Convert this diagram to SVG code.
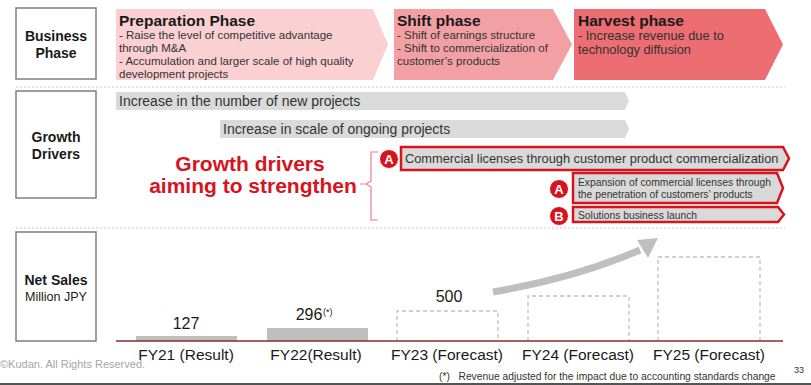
<svg xmlns="http://www.w3.org/2000/svg" width="811" height="385" viewBox="0 0 811 385">
<defs>
<style>
text{font-family:"Liberation Sans",Arial,sans-serif;fill:#1a1a1a}
.lbl{fill:#fff;stroke:#7f7f7f;stroke-width:1.5}
.lt{font-weight:bold;font-size:14px;text-anchor:middle}
.pt{font-weight:bold;font-size:15.5px}
.ps{font-size:11.5px;fill:#333}
.sep{stroke:#c8c8c8;stroke-width:1;stroke-dasharray:2 2}
.gbar{fill:#dadada}
.gt{font-size:14px;fill:#333}
.rbox{fill:#d9d9d9;stroke:#d7141e;stroke-width:2.5}
.circ{fill:#d7141e;stroke:#fff;stroke-width:1}
.ct{fill:#fff;font-weight:bold;font-size:13px;text-anchor:middle}
.dash{fill:none;stroke:#c0c0c0;stroke-width:1.3;stroke-dasharray:4 3}
.cat{font-size:15.5px;text-anchor:middle}
.val{font-size:16px;text-anchor:middle}
</style>
</defs>
<rect width="811" height="385" fill="#fff"/>

<g id="business-phase-label">
<rect class="lbl" x="16" y="8" width="80" height="71"/>
<text class="lt" x="56" y="41">Business</text>
<text class="lt" x="56" y="58">Phase</text>
</g>

<g id="preparation-phase">
<polygon points="116,9 373,9 388,44.5 373,80 116,80" fill="#fad0d3"/>
<text class="pt" x="119" y="26">Preparation Phase</text>
<text class="ps" x="119" y="39">- Raise the level of competitive advantage</text>
<text class="ps" x="119" y="52">through M&amp;A</text>
<text class="ps" x="119" y="65">- Accumulation and larger scale of high quality</text>
<text class="ps" x="119" y="78">development projects</text>
</g>

<g id="shift-phase">
<polygon points="394,9 553,9 572,44.5 553,80 394,80" fill="#f2a0a4"/>
<text class="pt" x="397" y="26">Shift phase</text>
<text class="ps" x="397" y="39">- Shift of earnings structure</text>
<text class="ps" x="397" y="52">- Shift to commercialization of</text>
<text class="ps" x="397" y="65">customer’s products</text>
</g>

<g id="harvest-phase">
<polygon points="574,9 765,9 783,44.5 765,80 574,80" fill="#ec6d72"/>
<text class="pt" x="578" y="26">Harvest phase</text>
<text class="ps" x="578" y="40" style="font-size:12.8px">- Increase revenue due to</text>
<text class="ps" x="578" y="54" style="font-size:12.8px">technology diffusion</text>
</g>

<line class="sep" x1="16" y1="87" x2="785" y2="87"/>

<g id="growth-drivers-label">
<rect class="lbl" x="16" y="91" width="80" height="107"/>
<text class="lt" x="56" y="142">Growth</text>
<text class="lt" x="56" y="159">Drivers</text>
</g>

<g id="new-projects">
<polygon class="gbar" points="116,92 625,92 629,101 625,110 116,110"/>
<text class="gt" x="119" y="106">Increase in the number of new projects</text>
</g>

<g id="ongoing-projects">
<polygon class="gbar" points="220,120 625,120 629,129 625,138 220,138"/>
<text class="gt" x="223" y="134">Increase in scale of ongoing projects</text>
</g>

<g id="aiming-label">
<text x="250" y="171" style="font-weight:bold;font-size:21px;fill:#d7141e;text-anchor:middle">Growth drivers</text>
<text x="253" y="193" style="font-weight:bold;font-size:21px;fill:#d7141e;text-anchor:middle">aiming to strengthen</text>
</g>

<g id="commercial-licenses">
<polygon class="rbox" points="401,147 783,147 789,158.5 783,170 401,170"/>
<circle class="circ" cx="389" cy="159" r="9.5"/>
<text class="ct" x="389" y="163.5">A</text>
<text x="405" y="163" style="font-size:12.8px;fill:#333">Commercial licenses through customer product commercialization</text>
</g>

<g id="expansion-licenses">
<polygon class="rbox" points="573,173 777,173 783,188 777,203 573,203"/>
<circle class="circ" cx="559" cy="189" r="9.5"/>
<text class="ct" x="559" y="193.5">A</text>
<text x="578" y="186" style="font-size:10.3px;fill:#333">Expansion of commercial licenses through</text>
<text x="578" y="198" style="font-size:10.3px;fill:#333">the penetration of customers’ products</text>
</g>

<g id="solutions-launch">
<polygon class="rbox" points="573,207 778,207 784,214.5 778,222 573,222"/>
<circle class="circ" cx="559" cy="216" r="9.5"/>
<text class="ct" x="559" y="220.5">B</text>
<text x="578" y="219" style="font-size:10.3px;fill:#333">Solutions business launch</text>
</g>

<line class="sep" x1="16" y1="228" x2="785" y2="228"/>

<g id="net-sales-label">
<rect class="lbl" x="16" y="232" width="80" height="109"/>
<text class="lt" x="56" y="285">Net Sales</text>
<text x="56" y="301" style="font-size:12.5px;text-anchor:middle">Million JPY</text>
</g>

<g id="fy21">
<rect x="136" y="336" width="101" height="5" fill="#bfbfbf"/>
<text class="val" x="186" y="329">127</text>
<text class="cat" x="186" y="360">FY21 (Result)</text>
</g>

<g id="fy22">
<rect x="267" y="328" width="101" height="13" fill="#bfbfbf"/>
<text class="val" x="309" y="320">296</text>
<text x="323" y="315" style="font-size:9px">(*)</text>
<text class="cat" x="316" y="360">FY22(Result)</text>
</g>

<g id="fy23">
<polyline class="dash" points="397,341 397,311 498,311 498,341"/>
<text class="val" x="449" y="302">500</text>
<text class="cat" x="447" y="360">FY23 (Forecast)</text>
</g>

<g id="fy24">
<polyline class="dash" points="528,341 528,296 629,296 629,341"/>
<text class="cat" x="578" y="360">FY24 (Forecast)</text>
</g>

<g id="fy25">
<polyline class="dash" points="658,341 658,257 760,257 760,341"/>
<text class="cat" x="709" y="360">FY25 (Forecast)</text>
</g>

<g id="connectors">
<path d="M360,184 L365,184 M378,152 L371,152 L371,181 L366,184 L371,187 L371,220 L378,220" fill="none" stroke="#ee7f86" stroke-width="1.2"/>
<path d="M493,292 Q575,278 640,250" fill="none" stroke="#bfbfbf" stroke-width="7"/>
<polygon points="658,238 637,240 648,258" fill="#bfbfbf"/>
<line x1="116" y1="341" x2="783" y2="341" stroke="#8e2a2a" stroke-width="1.5"/>
</g>

<text x="0" y="368" style="font-size:11px;fill:#a6a6a6">©Kudan. All Rights Reserved.</text>
<text x="439" y="380" style="font-size:10.3px;fill:#333" xml:space="preserve">(*)   Revenue adjusted for the impact due to accounting standards change</text>
<text x="794" y="373" style="font-size:9px;fill:#333">33</text>
<rect x="0" y="383" width="811" height="2" fill="#555"/>
</svg>
